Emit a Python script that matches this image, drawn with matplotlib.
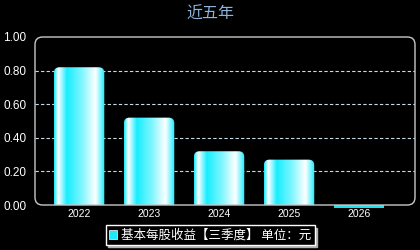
import matplotlib
matplotlib.use("Agg")
import matplotlib.pyplot as plt
import matplotlib.patches as patches
from matplotlib.colors import LinearSegmentedColormap
import numpy as np

years = ["2022", "2023", "2024", "2025", "2026"]
eps = [0.82, 0.52, 0.32, 0.27, -0.01]
yticks = [0.0, 0.2, 0.4, 0.6, 0.8, 1.0]
title = "近五年"
legend_label = "基本每股收益【三季度】 单位：元"

plt.rcParams['font.family'] = ['Liberation Sans', 'Noto Sans CJK SC', 'DejaVu Sans']

fig = plt.figure(figsize=(4.2, 2.5), dpi=100, facecolor='black')
ax = fig.add_axes([35 / 420, 45 / 250, 380 / 420, 168 / 250])
ax.set_facecolor('black')
ax.set_xlim(-0.63, 4.8)
ax.set_ylim(0, 1.0)

# horizontal cyan/white gradient for the bars
cmap = LinearSegmentedColormap.from_list('bar', [
    (0.0, '#20e8f8'), (0.08, '#ffffff'), (0.25, '#18eeff'),
    (0.55, '#80f6ff'), (0.82, '#ffffff'), (1.0, '#18eeff')])
grad = np.linspace(0, 1, 100).reshape(1, -1)

width = 0.72
for i, v in enumerate(eps):
    x0 = i - width / 2
    if v > 0:
        box = patches.FancyBboxPatch((x0, -0.1), width, v + 0.1,
                                     boxstyle="round,pad=0,rounding_size=0.08",
                                     mutation_aspect=0.42,
                                     facecolor='none', edgecolor='none')
        ax.add_patch(box)
        im = ax.imshow(grad, cmap=cmap, aspect='auto',
                       extent=(x0, x0 + width, 0, v), zorder=3)
        im.set_clip_path(box)
    else:
        ax.add_patch(patches.Rectangle((x0, v - 0.005), width, 0.015,
                                       facecolor='#20e0f0', edgecolor='none',
                                       clip_on=False, zorder=3))

ax.set_xlim(-0.63, 4.8)
ax.set_ylim(0, 1.0)

for y in yticks[1:-1]:
    ax.axhline(y, color='#c8dce6', lw=0.8, dashes=(3, 2), zorder=1)

ax.set_xticks(range(len(years)))
ax.set_xticklabels(years, color='white', fontsize=7.5)
ax.set_yticks(yticks)
ax.set_yticklabels([f"{t:.2f}" for t in yticks], color='white', fontsize=8.5)
ax.tick_params(length=0, pad=6)
ax.tick_params(axis='x', pad=3)
for s in ax.spines.values():
    s.set_visible(False)

frame = patches.FancyBboxPatch((0, 0), 1, 1, transform=ax.transAxes,
                               boxstyle="round,pad=0,rounding_size=0.02",
                               mutation_aspect=380 / 168,
                               facecolor='none', edgecolor='#c8c8c8', lw=1.0,
                               clip_on=False, zorder=4)
ax.add_patch(frame)

fig.text(0.5, 0.945, title, ha='center', va='center', color='#8cb4dc',
         fontsize=11.5, family=['Noto Sans CJK SC', 'DejaVu Sans'])

handle = patches.Patch(facecolor='#20e8f8', edgecolor='white', lw=0.5)
leg = fig.legend([handle], [legend_label], loc='center',
                 bbox_to_anchor=(210 / 420, 1 - 235 / 250),
                 facecolor='black', edgecolor='white', framealpha=1,
                 fancybox=False, shadow={'color': '#b0b0b0', 'alpha': 1},
                 fontsize=9, handlelength=0.7, handleheight=0.7,
                 handletextpad=0.3, borderpad=0.25, borderaxespad=0,
                 prop={'family': ['Noto Sans CJK SC', 'DejaVu Sans'], 'size': 9})
for t in leg.get_texts():
    t.set_color('white')

fig.savefig('out.png', dpi=100, facecolor='black')
